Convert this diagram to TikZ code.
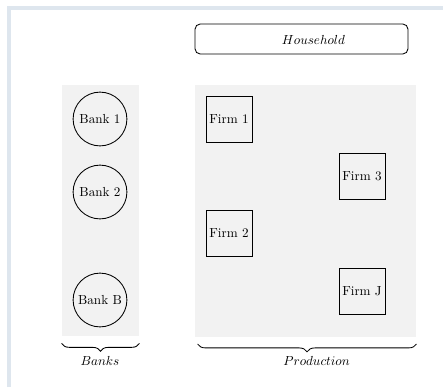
\documentclass[tikz,border=0pt]{standalone}
\usetikzlibrary{decorations.pathreplacing}

\definecolor{panelgray}{gray}{0.95}
\definecolor{framecol}{RGB}{222,230,238}

\begin{document}
\begin{tikzpicture}[x=0.762pt, y=-0.762pt, line width=0.65pt,
        bank/.style={draw, circle, minimum size=41pt, inner sep=1pt},
        firm/.style={draw, rectangle, minimum size=35pt, inner sep=1pt},
        panel/.style={fill=panelgray, inner sep=0pt},
        sector/.style={decorate, decoration={brace, mirror, amplitude=6pt}}]
            \useasboundingbox (0, 0) rectangle (443, 387);
            \draw[framecol, line width=2.8pt] (8.7, 387) -- (8.7, 8) -- (443, 8);

            \node[draw, rounded corners=4pt, minimum width=162.3pt, minimum height=22.9pt] (HH) at (301.5, 39) {};
            \node (HHtext) at (313.5, 40) {$Household$};

            \node[panel, minimum width=58.7pt, minimum height=191.3pt] (BP) at (100.5, 210.5) {};
            \node[panel, minimum width=168.4pt, minimum height=192pt] (PP) at (305.5, 211) {};

            \node[bank] (B1) at (100, 119) {Bank 1};
            \node[bank] (B2) at (100, 192) {Bank 2};
            \node[bank] (BB) at (100, 300) {Bank B};

            \node[firm] (F1) at (229, 119) {Firm 1};
            \node[firm] (F3) at (362, 176) {Firm 3};
            \node[firm] (F2) at (229, 233) {Firm 2};
            \node[firm] (FJ) at (362, 291) {Firm J};

            \draw[sector] ([yshift=-5.3pt]BP.south west) -- ([yshift=-5.3pt]BP.south east);
            \draw[sector] ([xshift=2.3pt, yshift=-5pt]PP.south west) -- ([yshift=-5pt]PP.south east);
            \node (BL) at (100, 361) {$Banks$};
            \node (PL) at (316.5, 361) {$Production$};
        \end{tikzpicture}
\end{document}
